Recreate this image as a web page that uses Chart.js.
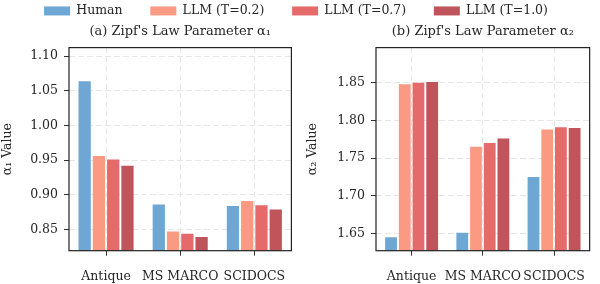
<!DOCTYPE html>
<html>
<head>
<meta charset="utf-8">
<script src="https://cdn.jsdelivr.net/npm/chart.js@4"></script>
<style>
  html, body { margin: 0; padding: 0; background: #fff; }
  #wrap { position: relative; width: 600px; height: 284px; overflow: hidden; }
  .box { position: absolute; }
</style>
</head>
<body>
<div id="wrap">
  <div class="box" style="left:0;top:18px;width:300px;height:266px"><canvas id="chartA"></canvas></div>
  <div class="box" style="left:300px;top:18px;width:300px;height:266px"><canvas id="chartB"></canvas></div>
  <div class="box" style="left:-4px;top:-23px;width:600px;height:90px"><canvas id="legend"></canvas></div>
</div>
<script>
// categories and series
const datasetsNames = ['Antique', 'MS MARCO', 'SCIDOCS'];
const seriesLabels = ['Human', 'LLM (T=0.2)', 'LLM (T=0.7)', 'LLM (T=1.0)'];

// alpha_1 per series (Antique, MS MARCO, SCIDOCS)
const alpha1Human = [1.064, 0.886, 0.884];
const alpha1T02 = [0.956, 0.847, 0.891];
const alpha1T07 = [0.951, 0.844, 0.885];
const alpha1T10 = [0.942, 0.839, 0.879];

// alpha_2 per series
const alpha2Human = [1.645, 1.651, 1.725];
const alpha2T02 = [1.848, 1.765, 1.788];
const alpha2T07 = [1.850, 1.770, 1.791];
const alpha2T10 = [1.851, 1.776, 1.790];

// tick labels
const ticksA = [0.85, 0.90, 0.95, 1.00, 1.05, 1.10];
const ticksB = [1.65, 1.70, 1.75, 1.80, 1.85];

const barColors = ['#6ea7d3', '#fb9a83', '#e66a69', '#c0545b'];
const FONT = "'DejaVu Serif', serif";
const TEXT = '#262626';

Chart.defaults.font.family = FONT;
Chart.defaults.color = TEXT;
Chart.defaults.animation = false;

// draws the box frame around the plot area
const framePlugin = {
    id: 'frame',
    afterDatasetsDraw(chart) {
        const a = chart.chartArea, ctx = chart.ctx;
        ctx.save();
        ctx.strokeStyle = '#222';
        ctx.lineWidth = 1.2;
        ctx.strokeRect(a.left, a.top, a.right - a.left, a.bottom - a.top);
        ctx.restore();
    }
};

function makeDatasets(series) {
    return series.map((vals, i) => ({
        label: seriesLabels[i],
        data: vals,
        backgroundColor: barColors[i],
        borderWidth: 0,
        categoryPercentage: 0.77,
        barPercentage: 0.86
    }));
}

function panel(id, title, series, yMin, yMax, yTicks, yTitle, yWidth, titlePad, rightPad) {
    new Chart(document.getElementById(id), {
        type: 'bar',
        data: { labels: datasetsNames, datasets: makeDatasets(series) },
        options: {
            responsive: true,
            maintainAspectRatio: false,
            layout: { padding: { left: 0, right: rightPad, top: 0, bottom: 0 } },
            plugins: {
                legend: { display: false },
                tooltip: { enabled: false },
                title: {
                    display: true,
                    fullSize: false,
                    text: title,
                    color: TEXT,
                    font: { size: 13, weight: 'normal', family: FONT },
                    padding: { top: 6, bottom: 8 }
                }
            },
            scales: {
                x: {
                    offset: true,
                    grid: {
                        offset: false,
                        color: '#e6e6e6',
                        tickColor: '#333',
                        tickLength: 5,
                        tickWidth: 1
                    },
                    border: { display: false, dash: [6, 3] },
                    ticks: { padding: 13.5, font: { size: 12.5 }, color: TEXT, maxRotation: 0, autoSkip: false },
                    afterFit: s => { s.height = 33.3; }
                },
                y: {
                    min: yMin,
                    max: yMax,
                    afterBuildTicks: s => { s.ticks = yTicks.map(v => ({ value: v })); },
                    grid: {
                        color: '#e6e6e6',
                        tickColor: '#333',
                        tickLength: 5,
                        tickWidth: 1
                    },
                    border: { display: false, dash: [6, 3] },
                    ticks: {
                        padding: 6,
                        font: { size: 12.5 },
                        color: TEXT,
                        callback: v => Number(v).toFixed(2)
                    },
                    title: {
                        display: true,
                        text: yTitle,
                        color: TEXT,
                        font: { size: 12.5 },
                        padding: { top: titlePad, bottom: 0 }
                    },
                    afterFit: s => { s.width = yWidth; }
                }
            }
        },
        plugins: [framePlugin]
    });
}

panel('chartA', "(a) Zipf's Law Parameter \u03b1\u2081",
      [alpha1Human, alpha1T02, alpha1T07, alpha1T10],
      0.8194, 1.1124, ticksA, '\u03b1\u2081 Value', 69, 0, 8);

panel('chartB', "(b) Zipf's Law Parameter \u03b1\u2082",
      [alpha2Human, alpha2T02, alpha2T07, alpha2T10],
      1.6271, 1.8965, ticksB, '\u03b1\u2082 Value', 76, 5.5, 2.3);

// shared legend on its own canvas
new Chart(document.getElementById('legend'), {
    type: 'bar',
    data: {
        labels: [],
        datasets: seriesLabels.map((l, i) => ({ label: l, data: [], backgroundColor: barColors[i] }))
    },
    options: {
        responsive: true,
        maintainAspectRatio: false,
        scales: { x: { display: false }, y: { display: false } },
        plugins: {
            tooltip: { enabled: false },
            legend: {
                position: 'top',
                labels: {
                    boxWidth: 26,
                    boxHeight: 9,
                    padding: 27.7,
                    color: TEXT,
                    font: { size: 12.5, family: FONT }
                }
            }
        }
    }
});
</script>
</body>
</html>
